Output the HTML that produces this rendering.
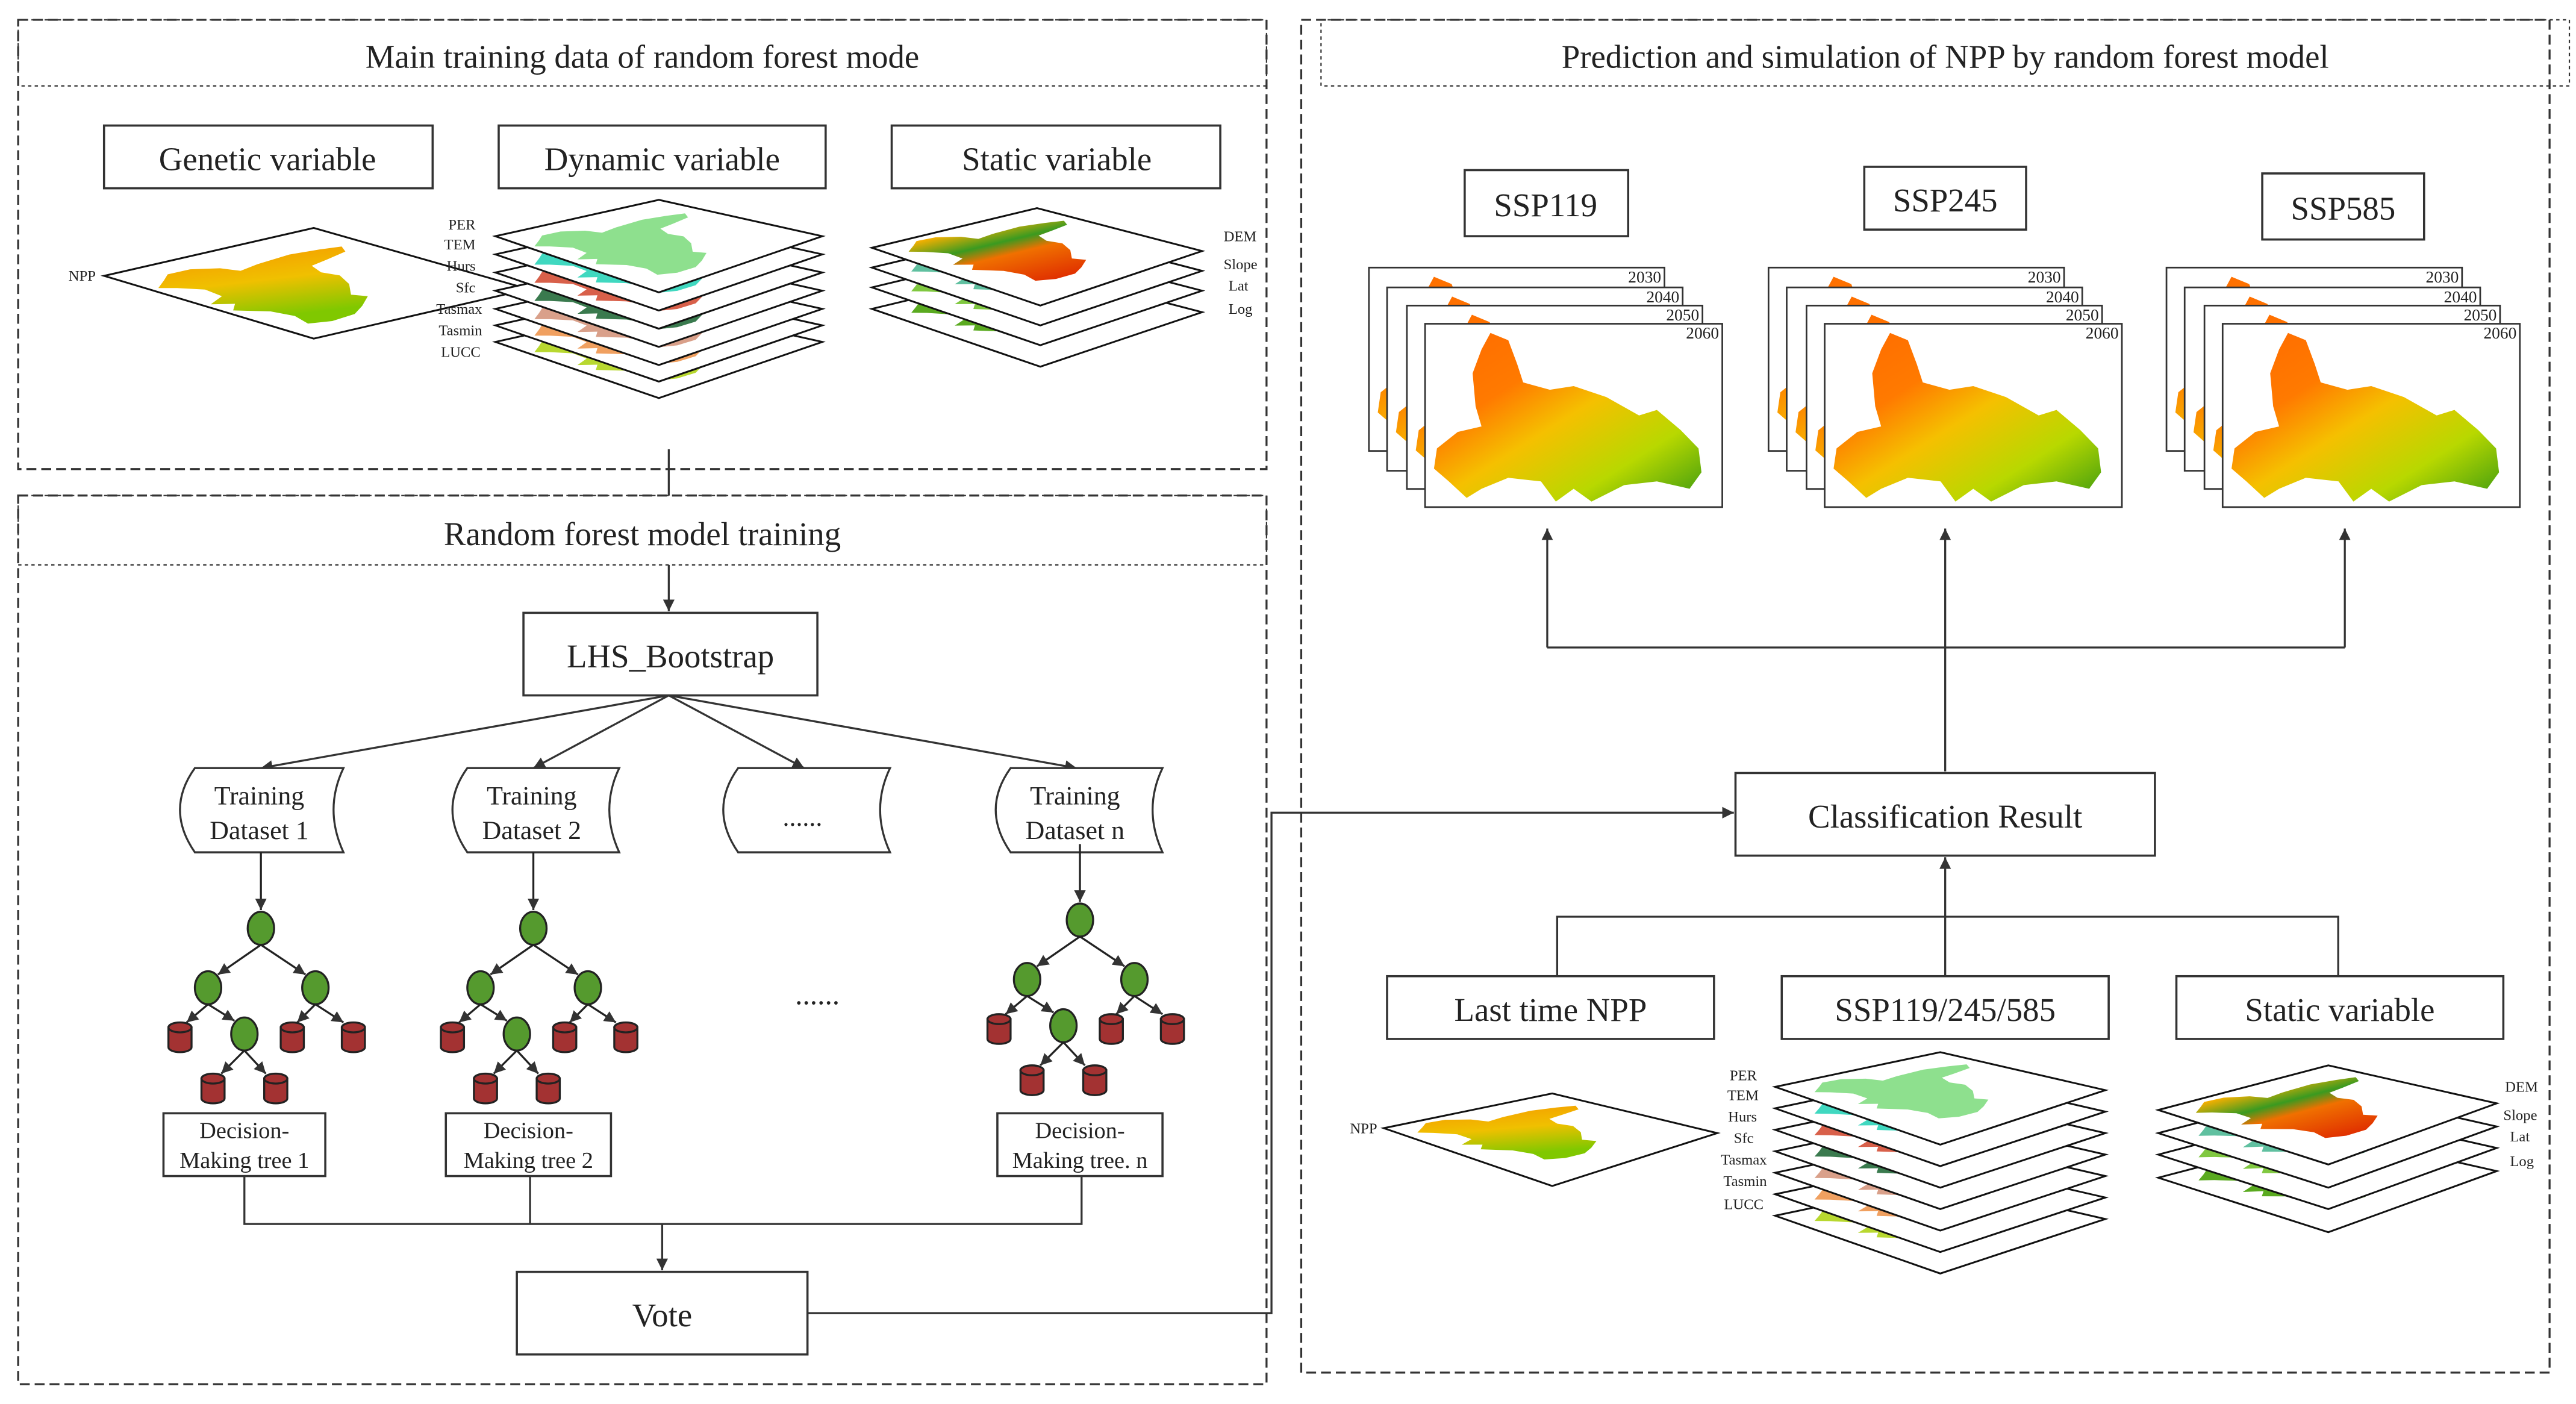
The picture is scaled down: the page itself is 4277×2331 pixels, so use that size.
<!DOCTYPE html>
<html><head><meta charset="utf-8"><style>html,body{margin:0;padding:0;background:#fff}svg{display:block}text{font-family:"Liberation Serif",serif;fill:#222}</style></head><body>
<svg width="4277" height="2331" viewBox="0 0 1560 850" preserveAspectRatio="none" xmlns="http://www.w3.org/2000/svg">
<defs>
<marker id="ar" viewBox="0 0 10 10" refX="10" refY="5" markerWidth="7" markerHeight="7" orient="auto-start-reverse" markerUnits="userSpaceOnUse"><path d="M0,0 L10,5 L0,10 Z" fill="#333"/></marker>
<linearGradient id="npp" x1="0" y1="0" x2="1" y2="1"><stop offset="0" stop-color="#ff6a00"/><stop offset="0.3" stop-color="#ff7a00"/><stop offset="0.5" stop-color="#f5c000"/><stop offset="0.75" stop-color="#b8d800"/><stop offset="1" stop-color="#3c9a10"/></linearGradient>
<linearGradient id="npp2" x1="0" y1="0" x2="1" y2="0.4"><stop offset="0" stop-color="#f59a00"/><stop offset="0.5" stop-color="#f0c000"/><stop offset="1" stop-color="#80c800"/></linearGradient>
<linearGradient id="dem" x1="0" y1="0" x2="1" y2="0"><stop offset="0" stop-color="#f8b000"/><stop offset="0.3" stop-color="#3a9a20"/><stop offset="0.5" stop-color="#f07000"/><stop offset="1" stop-color="#e03000"/></linearGradient>
<path id="hb" d="M.22,.05 L.28,.09 .31,.22 .33,.32 .42,.36 .5,.34 .61,.4 .72,.5 .78,.47 .86,.58 .92,.68 .93,.81 .89,.9 .78,.86 .67,.88 .56,.97 .5,.9 .44,.97 .39,.86 .28,.84 .19,.9 .14,.95 .08,.86 .03,.79 .04,.68 .11,.59 .19,.56 .17,.45 .16,.27 .19,.14 Z"/>
</defs>
<g fill="none" stroke="#333" stroke-width="1.2">
<rect x="11" y="12" width="756" height="272" stroke-dasharray="6,3"/>
<rect x="11" y="12" width="756" height="40" stroke-dasharray="2,2" stroke-width="0.8"/>
<rect x="11" y="300" width="756" height="538" stroke-dasharray="6,3"/>
<rect x="11" y="300" width="756" height="42" stroke-dasharray="2,2" stroke-width="0.8"/>
<rect x="788" y="12" width="756" height="819" stroke-dasharray="6,3"/>
<rect x="800" y="12" width="756" height="40" stroke-dasharray="2,2" stroke-width="0.8"/>
</g>
<text x="389" y="41" font-size="20" text-anchor="middle">Main training data of random forest mode</text>
<text x="389" y="330" font-size="20" text-anchor="middle">Random forest model training</text>
<text x="1178" y="41" font-size="20" text-anchor="middle">Prediction and simulation of NPP by random forest model</text>
<g fill="#fff" stroke="#333" stroke-width="1.3">
<rect x="63" y="76" width="199" height="38"/><rect x="302" y="76" width="198" height="38"/><rect x="540" y="76" width="199" height="38"/>
<rect x="317" y="371" width="178" height="50"/>
<rect x="99" y="674" width="98" height="38"/><rect x="270" y="674" width="100" height="38"/><rect x="604" y="674" width="100" height="38"/>
<rect x="313" y="770" width="176" height="50"/>
<rect x="887" y="103" width="99" height="40"/><rect x="1129" y="101" width="98" height="38"/><rect x="1370" y="105" width="98" height="40"/>
<rect x="1051" y="468" width="254" height="50"/>
<rect x="840" y="591" width="198" height="38"/><rect x="1079" y="591" width="198" height="38"/><rect x="1318" y="591" width="198" height="38"/>
</g>
<g font-size="20" text-anchor="middle">
<text x="162" y="103">Genetic variable</text><text x="401" y="103">Dynamic variable</text><text x="640" y="103">Static variable</text>
<text x="406" y="404">LHS_Bootstrap</text>
<text x="401" y="803">Vote</text>
<text x="936" y="131">SSP119</text><text x="1178" y="128">SSP245</text><text x="1419" y="133">SSP585</text>
<text x="1178" y="501">Classification Result</text>
<text x="939" y="618">Last time NPP</text><text x="1178" y="618">SSP119/245/585</text><text x="1417" y="618">Static variable</text>
</g>
<g font-size="14" text-anchor="middle">
<text x="148" y="689">Decision-</text><text x="148" y="707">Making tree 1</text>
<text x="320" y="689">Decision-</text><text x="320" y="707">Making tree 2</text>
<text x="654" y="689">Decision-</text><text x="654" y="707">Making tree. n</text>
</g>
<g fill="none" stroke="#333" stroke-width="1.2">
<line x1="405" y1="272" x2="405" y2="300"/>
<line x1="405" y1="342" x2="405" y2="370" marker-end="url(#ar)"/>
<line x1="405" y1="421" x2="158" y2="465" marker-end="url(#ar)"/>
<line x1="405" y1="421" x2="323" y2="465" marker-end="url(#ar)"/>
<line x1="405" y1="421" x2="487" y2="465" marker-end="url(#ar)"/>
<line x1="405" y1="421" x2="652" y2="465" marker-end="url(#ar)"/>
<polyline points="148,712 148,741 655,741 655,712"/>
<line x1="321" y1="712" x2="321" y2="741"/>
<line x1="401" y1="741" x2="401" y2="769" marker-end="url(#ar)"/>
<polyline points="489,795 770,795 770,492 1050,492" marker-end="url(#ar)"/>
<line x1="1178" y1="467" x2="1178" y2="320" marker-end="url(#ar)"/>
<polyline points="937,392 1420,392"/>
<line x1="937" y1="392" x2="937" y2="320" marker-end="url(#ar)"/>
<line x1="1420" y1="392" x2="1420" y2="320" marker-end="url(#ar)"/>
<polyline points="943,591 943,555 1416,555 1416,591"/>
<line x1="1178" y1="591" x2="1178" y2="519" marker-end="url(#ar)"/>
</g>
<g fill="#fff" stroke="#333" stroke-width="1.2">
<path d="M118,465 L208,465 Q196,490 208,516 L118,516 Q100,490 118,465 Z"/>
<path d="M283,465 L375,465 Q363,490 375,516 L283,516 Q265,490 283,465 Z"/>
<path d="M447,465 L539,465 Q527,490 539,516 L447,516 Q429,490 447,465 Z"/>
<path d="M612,465 L704,465 Q692,490 704,516 L612,516 Q594,490 612,465 Z"/>
</g>
<g font-size="16" text-anchor="middle">
<text x="157" y="487">Training</text><text x="157" y="508">Dataset 1</text>
<text x="322" y="487">Training</text><text x="322" y="508">Dataset 2</text>
<text x="486" y="500">......</text>
<text x="651" y="487">Training</text><text x="651" y="508">Dataset n</text>
<text x="495" y="608" font-size="18">......</text>
</g>
<g id="t1" stroke="#222" stroke-width="1.2">
<line x1="158" y1="516" x2="158" y2="551" marker-end="url(#ar)"/>
<line x1="158" y1="572" x2="132" y2="590" marker-end="url(#ar)"/><line x1="158" y1="572" x2="185" y2="590" marker-end="url(#ar)"/>
<line x1="126" y1="608" x2="113" y2="619" marker-end="url(#ar)"/><line x1="126" y1="608" x2="142" y2="618" marker-end="url(#ar)"/>
<line x1="191" y1="608" x2="180" y2="619" marker-end="url(#ar)"/><line x1="191" y1="608" x2="208" y2="619" marker-end="url(#ar)"/>
<line x1="148" y1="636" x2="134" y2="650" marker-end="url(#ar)"/><line x1="148" y1="636" x2="161" y2="650" marker-end="url(#ar)"/>
<g fill="#559a2e"><ellipse cx="158" cy="562" rx="8" ry="10"/><ellipse cx="126" cy="598" rx="8" ry="10"/><ellipse cx="191" cy="598" rx="8" ry="10"/><ellipse cx="148" cy="626" rx="8" ry="10"/></g>
<g fill="#a33232">
<path d="M102,622 v12 a7,3 0 0 0 14,0 v-12 Z"/><ellipse cx="109" cy="622" rx="7" ry="3"/>
<path d="M170,622 v12 a7,3 0 0 0 14,0 v-12 Z"/><ellipse cx="177" cy="622" rx="7" ry="3"/>
<path d="M207,622 v12 a7,3 0 0 0 14,0 v-12 Z"/><ellipse cx="214" cy="622" rx="7" ry="3"/>
<path d="M122,653 v12 a7,3 0 0 0 14,0 v-12 Z"/><ellipse cx="129" cy="653" rx="7" ry="3"/>
<path d="M160,653 v12 a7,3 0 0 0 14,0 v-12 Z"/><ellipse cx="167" cy="653" rx="7" ry="3"/>
</g></g>
<use href="#t1" transform="translate(165,0)"/>
<use href="#t1" transform="translate(496,-5)"/>
<g stroke="#111" stroke-width="1.1">
<polygon points="63,167 190,138 320,175 190,205" fill="#fff"/>
<use href="#hb" fill="url(#npp2)" stroke="none" transform="matrix(118,32,-118,32,190,139) translate(.02,.04) scale(.96)"/>
</g>
<g font-size="9" text-anchor="end"><text x="58" y="170">NPP</text>
<text x="288" y="139">PER</text><text x="288" y="151">TEM</text><text x="288" y="164">Hurs</text><text x="288" y="177">Sfc</text><text x="292" y="190">Tasmax</text><text x="292" y="203">Tasmin</text><text x="291" y="216">LUCC</text></g>
<g stroke="#111" stroke-width="1.1">
<g transform="translate(0,64)"><polygon points="300,143 399,121 498,143 399,177" fill="#fff"/><use href="#hb" fill="#b8d830" stroke="none" transform="matrix(99,26,-99,26,399,121) translate(.03,.03) scale(.94)"/></g>
<g transform="translate(0,54)"><polygon points="300,143 399,121 498,143 399,177" fill="#fff"/><use href="#hb" fill="#f0a060" stroke="none" transform="matrix(99,26,-99,26,399,121) translate(.03,.03) scale(.94)"/></g>
<g transform="translate(0,44)"><polygon points="300,143 399,121 498,143 399,177" fill="#fff"/><use href="#hb" fill="#d9a08a" stroke="none" transform="matrix(99,26,-99,26,399,121) translate(.03,.03) scale(.94)"/></g>
<g transform="translate(0,33)"><polygon points="300,143 399,121 498,143 399,177" fill="#fff"/><use href="#hb" fill="#3a7a4e" stroke="none" transform="matrix(99,26,-99,26,399,121) translate(.03,.03) scale(.94)"/></g>
<g transform="translate(0,22)"><polygon points="300,143 399,121 498,143 399,177" fill="#fff"/><use href="#hb" fill="#d8604a" stroke="none" transform="matrix(99,26,-99,26,399,121) translate(.03,.03) scale(.94)"/></g>
<g transform="translate(0,11)"><polygon points="300,143 399,121 498,143 399,177" fill="#fff"/><use href="#hb" fill="#40d8c0" stroke="none" transform="matrix(99,26,-99,26,399,121) translate(.03,.03) scale(.94)"/></g>
<polygon points="300,143 399,121 498,143 399,177" fill="#fff"/><use href="#hb" fill="#8ee08e" stroke="none" transform="matrix(99,26,-99,26,399,121) translate(.03,.03) scale(.94)"/>
</g>
<g stroke="#111" stroke-width="1.1">
<g transform="translate(0,37)"><polygon points="528,150 628,126 728,152 630,185" fill="#fff"/><use href="#hb" fill="#5aaa20" stroke="none" transform="matrix(100,26,-100,24,628,126) translate(.03,.03) scale(.94)"/></g>
<g transform="translate(0,24)"><polygon points="528,150 628,126 728,152 630,185" fill="#fff"/><use href="#hb" fill="#80c840" stroke="none" transform="matrix(100,26,-100,24,628,126) translate(.03,.03) scale(.94)"/></g>
<g transform="translate(0,12)"><polygon points="528,150 628,126 728,152 630,185" fill="#fff"/><use href="#hb" fill="#60c0a0" stroke="none" transform="matrix(100,26,-100,24,628,126) translate(.03,.03) scale(.94)"/></g>
<polygon points="528,150 628,126 728,152 630,185" fill="#fff"/><use href="#hb" fill="url(#dem)" stroke="none" transform="matrix(100,26,-100,24,628,126) translate(.02,.02) scale(.96)"/>
</g>
<g font-size="9"><text x="741" y="146">DEM</text><text x="741" y="163">Slope</text><text x="744" y="176">Lat</text><text x="744" y="190">Log</text></g>
<g stroke="#111" stroke-width="1.1">
<polygon points="838,683 940,662 1040,686 940,718" fill="#fff"/>
<use href="#hb" fill="url(#npp2)" stroke="none" transform="matrix(100,24,-102,21,940,662) translate(.02,.04) scale(.96)"/>
</g>
<g font-size="9" text-anchor="end"><text x="834" y="686">NPP</text>
<text x="1064" y="654">PER</text><text x="1065" y="666">TEM</text><text x="1064" y="679">Hurs</text><text x="1062" y="692">Sfc</text><text x="1070" y="705">Tasmax</text><text x="1070" y="718">Tasmin</text><text x="1068" y="732">LUCC</text></g>
<g stroke="#111" stroke-width="1.1">
<g transform="translate(0,78)"><polygon points="1075,658 1175,637 1275,660 1175,693" fill="#fff"/><use href="#hb" fill="#b8d830" stroke="none" transform="matrix(100,24,-100,22,1175,637) translate(.03,.03) scale(.94)"/></g>
<g transform="translate(0,65)"><polygon points="1075,658 1175,637 1275,660 1175,693" fill="#fff"/><use href="#hb" fill="#f0a060" stroke="none" transform="matrix(100,24,-100,22,1175,637) translate(.03,.03) scale(.94)"/></g>
<g transform="translate(0,52)"><polygon points="1075,658 1175,637 1275,660 1175,693" fill="#fff"/><use href="#hb" fill="#d9a08a" stroke="none" transform="matrix(100,24,-100,22,1175,637) translate(.03,.03) scale(.94)"/></g>
<g transform="translate(0,39)"><polygon points="1075,658 1175,637 1275,660 1175,693" fill="#fff"/><use href="#hb" fill="#3a7a4e" stroke="none" transform="matrix(100,24,-100,22,1175,637) translate(.03,.03) scale(.94)"/></g>
<g transform="translate(0,26)"><polygon points="1075,658 1175,637 1275,660 1175,693" fill="#fff"/><use href="#hb" fill="#d8604a" stroke="none" transform="matrix(100,24,-100,22,1175,637) translate(.03,.03) scale(.94)"/></g>
<g transform="translate(0,13)"><polygon points="1075,658 1175,637 1275,660 1175,693" fill="#fff"/><use href="#hb" fill="#40d8c0" stroke="none" transform="matrix(100,24,-100,22,1175,637) translate(.03,.03) scale(.94)"/></g>
<polygon points="1075,658 1175,637 1275,660 1175,693" fill="#fff"/><use href="#hb" fill="#8ee08e" stroke="none" transform="matrix(100,24,-100,22,1175,637) translate(.03,.03) scale(.94)"/>
</g>
<g stroke="#111" stroke-width="1.1">
<g transform="translate(0,41)"><polygon points="1307,672 1410,645 1512,668 1410,705" fill="#fff"/><use href="#hb" fill="#5aaa20" stroke="none" transform="matrix(102,23,-103,27,1410,645) translate(.03,.03) scale(.94)"/></g>
<g transform="translate(0,27)"><polygon points="1307,672 1410,645 1512,668 1410,705" fill="#fff"/><use href="#hb" fill="#80c840" stroke="none" transform="matrix(102,23,-103,27,1410,645) translate(.03,.03) scale(.94)"/></g>
<g transform="translate(0,14)"><polygon points="1307,672 1410,645 1512,668 1410,705" fill="#fff"/><use href="#hb" fill="#60c0a0" stroke="none" transform="matrix(102,23,-103,27,1410,645) translate(.03,.03) scale(.94)"/></g>
<polygon points="1307,672 1410,645 1512,668 1410,705" fill="#fff"/><use href="#hb" fill="url(#dem)" stroke="none" transform="matrix(102,23,-103,27,1410,645) translate(.02,.02) scale(.96)"/>
</g>
<g font-size="9"><text x="1517" y="661">DEM</text><text x="1516" y="678">Slope</text><text x="1520" y="691">Lat</text><text x="1520" y="706">Log</text></g>
<g id="st">
<g><rect x="829" y="162" width="179" height="111" fill="#fff" stroke="#333"/><use href="#hb" fill="url(#npp)" transform="translate(829,162) scale(179,111)"/><text x="1006" y="171" font-size="10" text-anchor="end">2030</text></g>
<g><rect x="840" y="174" width="179" height="111" fill="#fff" stroke="#333"/><use href="#hb" fill="url(#npp)" transform="translate(840,174) scale(179,111)"/><text x="1017" y="183" font-size="10" text-anchor="end">2040</text></g>
<g><rect x="852" y="185" width="179" height="111" fill="#fff" stroke="#333"/><use href="#hb" fill="url(#npp)" transform="translate(852,185) scale(179,111)"/><text x="1029" y="194" font-size="10" text-anchor="end">2050</text></g>
<g><rect x="863" y="196" width="180" height="111" fill="#fff" stroke="#333"/><use href="#hb" fill="url(#npp)" transform="translate(863,196) scale(180,111)"/><text x="1041" y="205" font-size="10" text-anchor="end">2060</text></g>
</g>
<use href="#st" transform="translate(242,0)"/>
<use href="#st" transform="translate(483,0)"/>
</svg>
</body></html>
